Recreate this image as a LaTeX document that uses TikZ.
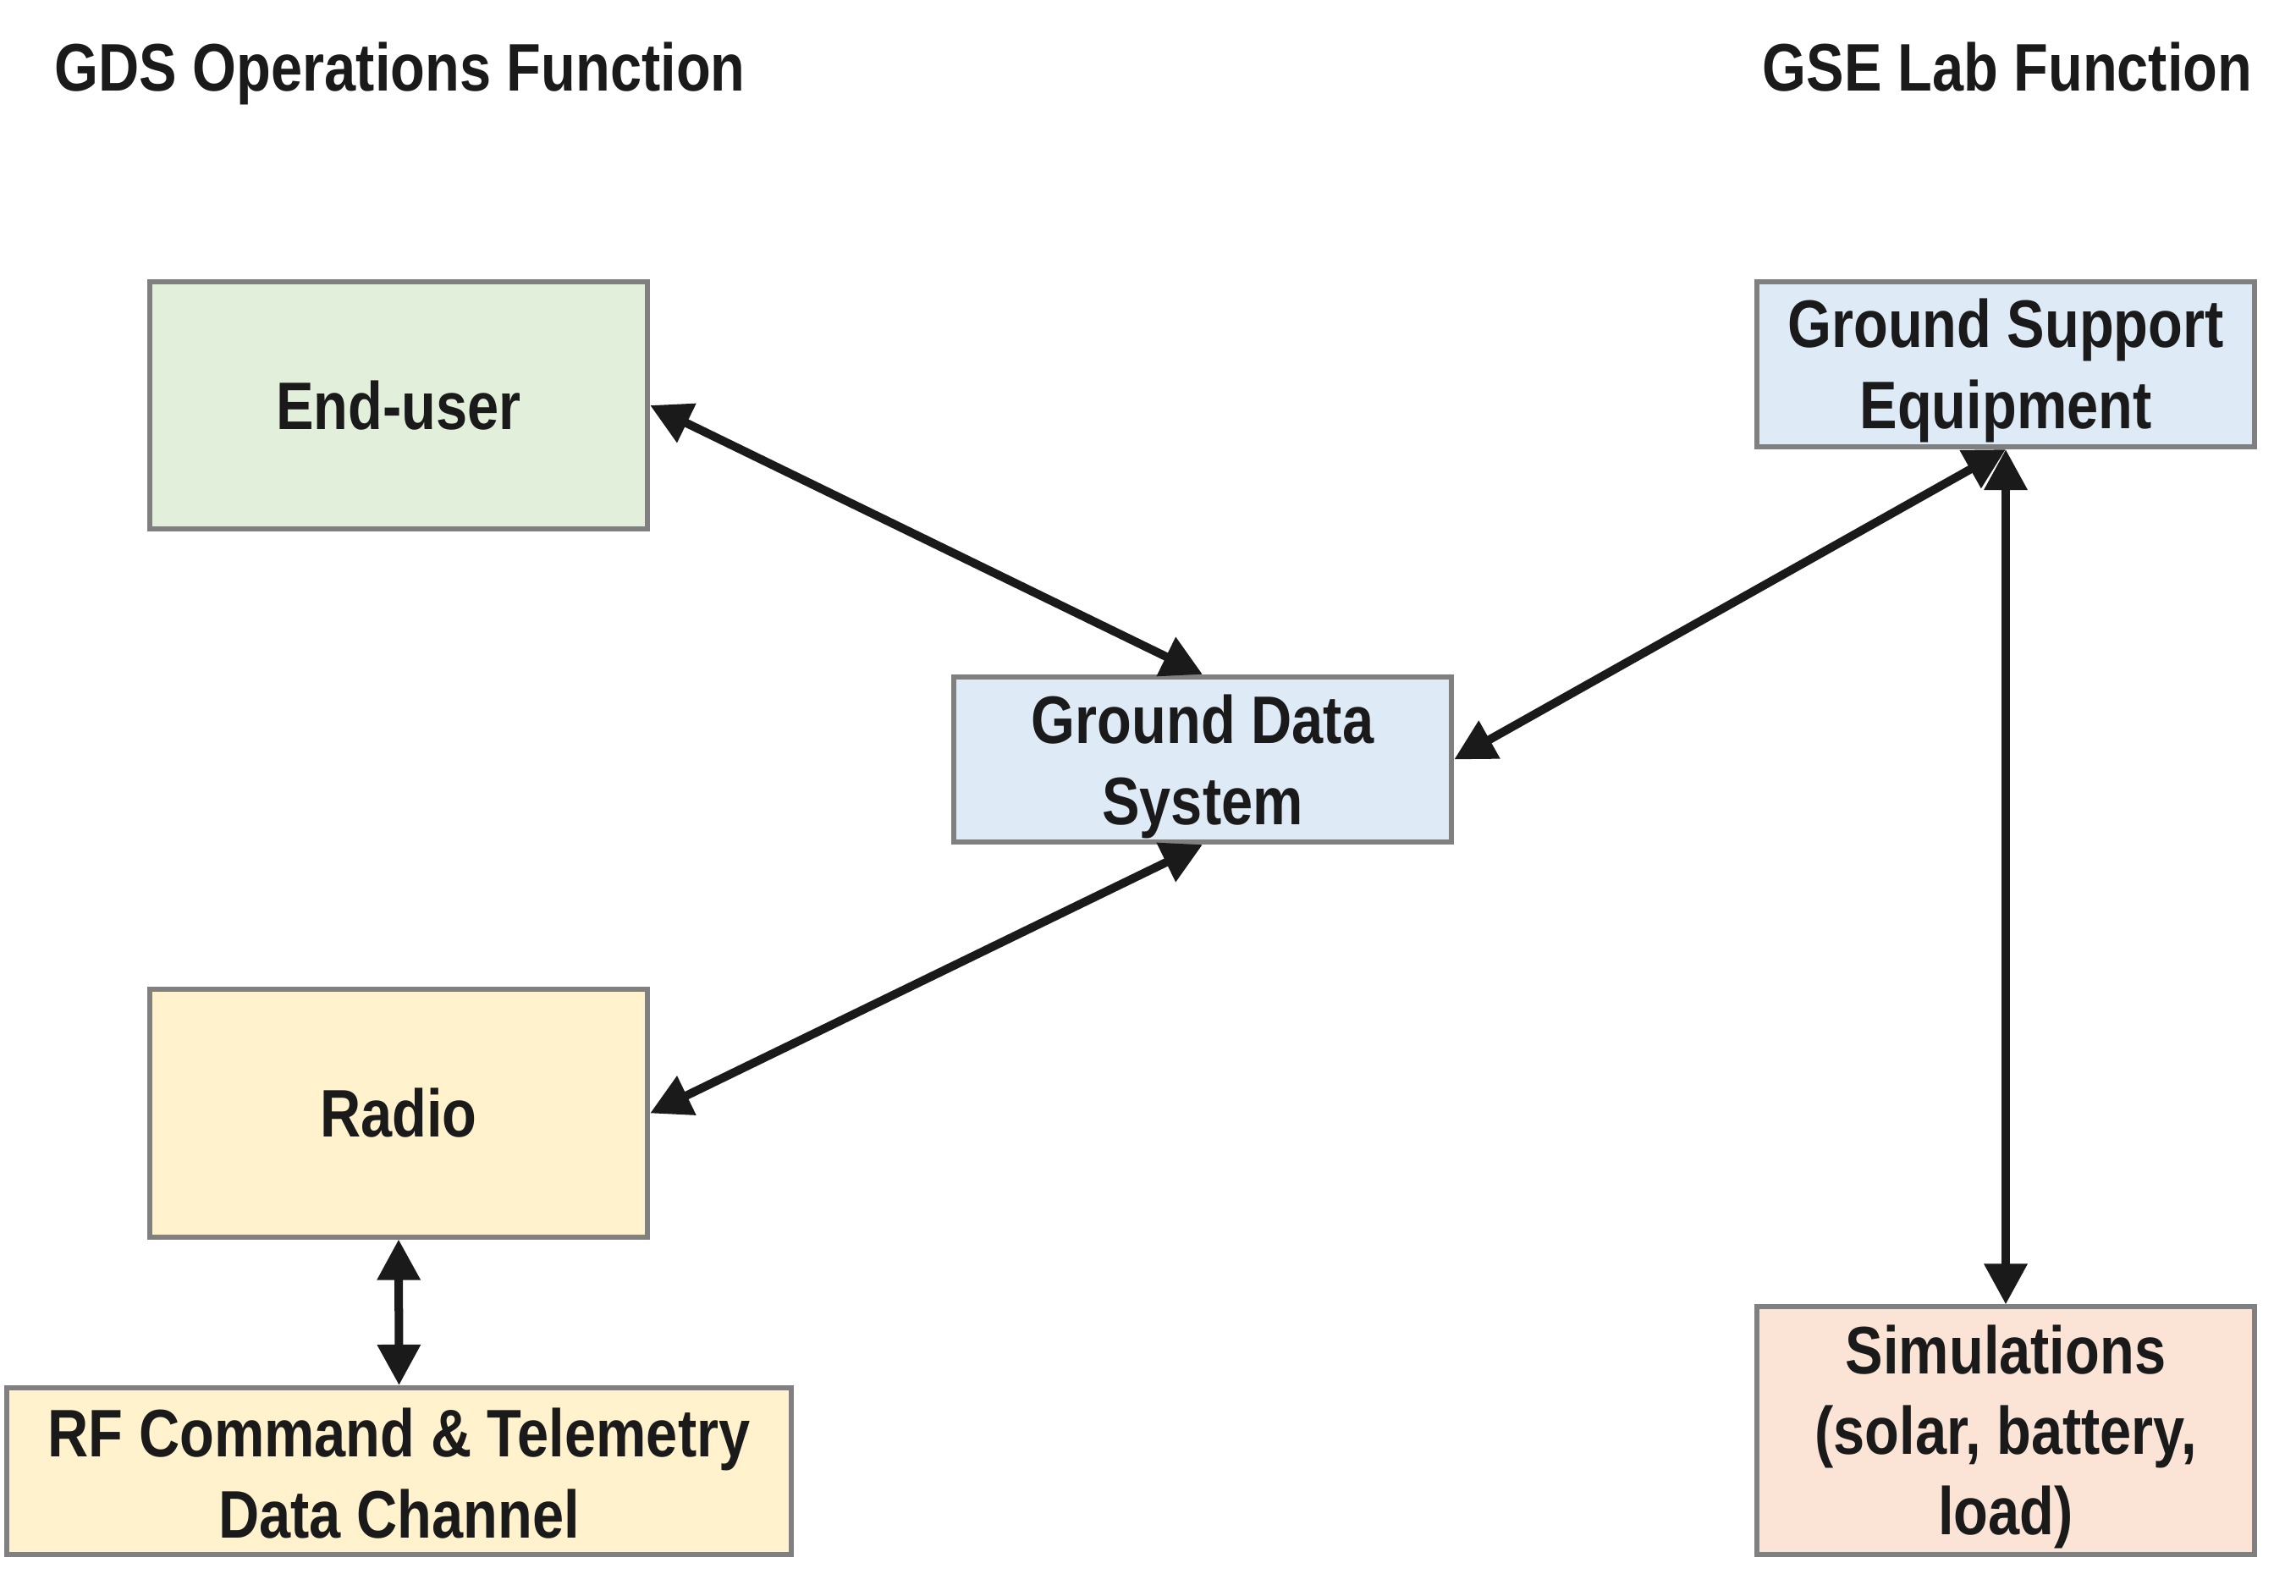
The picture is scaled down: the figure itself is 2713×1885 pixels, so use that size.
\documentclass[tikz,border=0pt]{standalone}
\usepackage{fontspec}
\setmainfont{Liberation Sans}[FakeStretch=0.84]
\usetikzlibrary{arrows.meta}
\definecolor{txt}{HTML}{1A1A1A}
\definecolor{bordergray}{HTML}{808080}
\definecolor{fgreen}{HTML}{E2EFDA}
\definecolor{fblue}{HTML}{DEEAF6}
\definecolor{fyellow}{HTML}{FFF2CC}
\definecolor{fsalmon}{HTML}{FBE4D6}
\newcommand{\mltext}[2]{\raisebox{#1}[\height][\depth]{\begin{tabular}{@{}c@{}}#2\end{tabular}}}
\tikzset{
  boxstyle/.style={draw=bordergray, line width=0.06cm, inner sep=0pt, align=center,
    text=txt, font=\fontsize{22.6}{27.1}\selectfont\bfseries},
  smallbox/.style={boxstyle, minimum width=5.88cm, minimum height=1.95cm},
  tallbox/.style={boxstyle, minimum width=5.88cm, minimum height=2.92cm},
  titlestyle/.style={anchor=base west, inner sep=0pt, text=txt, font=\fontsize{22.6}{27.1}\selectfont\bfseries},
  link/.style={draw=txt, line width=0.1cm, {Triangle[length=0.48cm,width=0.49cm]}-{Triangle[length=0.48cm,width=0.49cm]}}
}
\begin{document}
\begin{tikzpicture}[x=0.01cm, y=-0.01cm]
\useasboundingbox (0,0) rectangle (2713,1885);
\node[titlestyle] (t1) at (64,108) {GDS Operations Function};
\node[titlestyle] (t2) at (2082,108) {GSE Lab Function};
\node[tallbox, fill=fgreen] (eu) at (471,479) {End-user};
\node[smallbox, fill=fblue] (gds) at (1421,897.5) {\mltext{-0.10cm}{Ground Data\\System}};
\node[smallbox, fill=fblue] (gse) at (2370,430.5) {\mltext{-0.09cm}{Ground Support\\Equipment}};
\node[tallbox, fill=fyellow] (radio) at (471,1315.5) {Radio};
\node[boxstyle, fill=fyellow, minimum width=9.27cm, minimum height=1.97cm] (rf) at (471.5,1738.5) {\mltext{-0.12cm}{RF Command \& Telemetry\\Data Channel}};
\node[tallbox, fill=fsalmon] (sim) at (2370,1690.5) {\mltext{-0.09cm}{Simulations\\(solar, battery,\\load)}};
\draw[link] (eu.east) -- (gds.north);
\draw[link] (radio.east) -- (gds.south);
\draw[link] (gds.east) -- (gse.south);
\draw[link] (gse.south) -- (sim.north);
\draw[link] (radio.south) -- (rf.north);
\end{tikzpicture}
\end{document}
